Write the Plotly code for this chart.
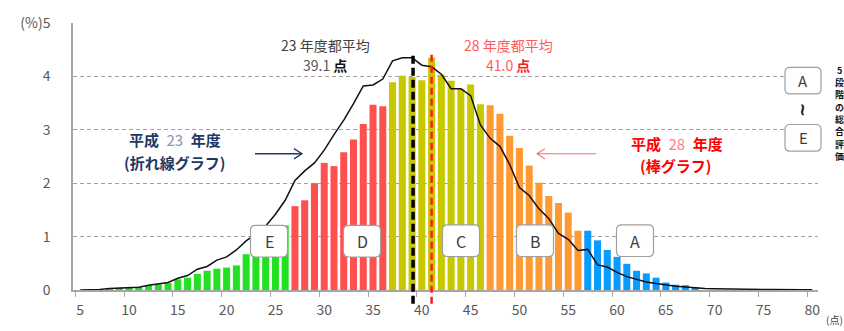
import plotly.graph_objects as go

# ---------------- data ----------------
scores = list(range(5, 81))
# H28 (bar) distribution, % of students per score
h28_pct = [0, 0, 0, 0.03, 0.04, 0.04, 0.05, 0.09, 0.11, 0.13,
           0.20, 0.23, 0.30, 0.36, 0.40, 0.42, 0.46, 0.67, 0.70, 0.75,
           0.85, 1.21, 1.57, 1.68, 2.00, 2.38, 2.32, 2.58, 2.82, 3.11,
           3.47, 3.44, 3.89, 4.01, 3.99, 3.93, 4.35, 4.03, 3.92, 3.77,
           3.85, 3.48, 3.46, 3.30, 2.89, 2.66, 2.33, 2.01, 1.76, 1.63,
           1.45, 1.11, 1.11, 0.93, 0.75, 0.62, 0.49, 0.36, 0.31, 0.23,
           0.14, 0.10, 0.09, 0.055, 0, 0, 0, 0, 0, 0,
           0, 0, 0, 0, 0, 0]
# H23 (line) distribution
h23_pct = [0, 0, 0.01, 0.03, 0.04, 0.04, 0.05, 0.09, 0.12, 0.14,
           0.22, 0.27, 0.39, 0.44, 0.56, 0.62, 0.75, 0.92, 1.05, 1.20,
           1.42, 1.68, 2.05, 2.23, 2.38, 2.62, 2.91, 3.18, 3.49, 3.82,
           3.84, 3.95, 4.29, 4.35, 4.35, 4.21, 4.18, 4.04, 3.77, 3.77,
           3.64, 3.09, 2.84, 2.69, 2.35, 1.92, 1.77, 1.52, 1.34, 1.06,
           0.95, 0.74, 0.76, 0.47, 0.43, 0.33, 0.25, 0.20, 0.15, 0.12,
           0.09, 0.07, 0.055, 0.04, 0.03, 0.025, 0.02, 0.015, 0.01, 0.01,
           0.01, 0.01, 0.005, 0.005, 0.005, 0.005]
grade_names = ["E", "D", "C", "B", "A"]
grade_min_score = [0, 27, 37, 47, 57]
grade_colors = ["#22e022", "#ff5050", "#c8c800", "#ff9a33", "#0a9bff"]
avg_h23 = 39.1
avg_h28 = 41.0
x_ticks = list(range(5, 81, 5))
y_ticks = [0, 1, 2, 3, 4, 5]
y_ticktext = ["0", "1", "2", "3", "4", "(%)5"]


def grade_index(s):
    idx = 0
    for i, m in enumerate(grade_min_score):
        if s >= m:
            idx = i
    return idx


bar_colors = [grade_colors[grade_index(s)] for s in scores]

# ---------------- geometry helpers (layout only) ----------------
W, H = 844, 331
ML, MR, MT, MB = 73, 26, 20, 40
PW, PH = W - ML - MR, H - MT - MB


def fx(px):
    return (px - ML) / PW


def fy(py):
    return (H - MB - py) / PH


def rrect_path(cx, cy, w, h, r):
    x0, x1 = cx - w / 2, cx + w / 2
    y0, y1 = cy - h / 2, cy + h / 2
    pts = []
    pts.append(f"M {fx(x0 + r)},{fy(y0)}")
    pts.append(f"L {fx(x1 - r)},{fy(y0)}")
    pts.append(f"Q {fx(x1)},{fy(y0)} {fx(x1)},{fy(y0 + r)}")
    pts.append(f"L {fx(x1)},{fy(y1 - r)}")
    pts.append(f"Q {fx(x1)},{fy(y1)} {fx(x1 - r)},{fy(y1)}")
    pts.append(f"L {fx(x0 + r)},{fy(y1)}")
    pts.append(f"Q {fx(x0)},{fy(y1)} {fx(x0)},{fy(y1 - r)}")
    pts.append(f"L {fx(x0)},{fy(y0 + r)}")
    pts.append(f"Q {fx(x0)},{fy(y0)} {fx(x0 + r)},{fy(y0)}")
    pts.append("Z")
    return " ".join(pts)


FONT = "Noto Sans CJK JP"

fig = go.Figure()
fig.add_trace(go.Bar(x=scores, y=h28_pct, marker=dict(color=bar_colors, line=dict(width=0)),
                     width=0.72, showlegend=False, hoverinfo="x+y"))
fig.add_trace(go.Scatter(x=scores, y=h23_pct, mode="lines", line=dict(color="#111111", width=1.5),
                         showlegend=False))

shapes = []
# average lines
shapes.append(dict(type="line", xref="x", yref="paper", x0=avg_h23, x1=avg_h23,
                   y0=fy(305), y1=fy(52), line=dict(color="#000000", width=3.5, dash="8px,4px")))
shapes.append(dict(type="line", xref="x", yref="paper", x0=avg_h28, x1=avg_h28,
                   y0=fy(305), y1=fy(52), line=dict(color="#ff1a1a", width=2.5, dash="7px,4px")))

# grade boxes on chart
box_centers = {"E": (269, 241.5), "D": (362, 241.5), "C": (461, 241), "B": (535, 241), "A": (635, 241)}
annotations = []
for g in grade_names:
    cx, cy = box_centers[g]
    shapes.append(dict(type="path", xref="paper", yref="paper", path=rrect_path(cx, cy, 37, 32, 5),
                       fillcolor="white", line=dict(color="#a0a0a0", width=1.2), layer="above"))
    annotations.append(dict(xref="paper", yref="paper", x=fx(cx), y=fy(cy), text=g, showarrow=False,
                            font=dict(family=FONT, size=16, color="#404040"),
                            xanchor="center", yanchor="middle"))

# right legend boxes
for g, cy in (("A", 78.5), ("E", 136.5)):
    shapes.append(dict(type="path", xref="paper", yref="paper", path=rrect_path(803, cy, 36, 27, 5),
                       fillcolor="white", line=dict(color="#a0a0a0", width=1.2), layer="above"))
    annotations.append(dict(xref="paper", yref="paper", x=fx(803), y=fy(cy), text=g, showarrow=False,
                            font=dict(family=FONT, size=15, color="#404040"),
                            xanchor="center", yanchor="middle"))
annotations.append(dict(xref="paper", yref="paper", x=fx(803), y=fy(108), text="<b>~</b>", textangle=90,
                        showarrow=False, font=dict(family="DejaVu Sans", size=17, color="#222222"),
                        xanchor="center", yanchor="middle"))
for ch, cy in zip("5段階の総合評価", [68, 80.5, 93, 105.5, 118, 130.5, 143, 155.5]):
    annotations.append(dict(xref="paper", yref="paper", x=fx(839), y=fy(cy), text=f"<b>{ch}</b>",
                            showarrow=False, font=dict(family=FONT, size=9, color="#111111"),
                            xanchor="center", yanchor="middle"))

# arrows
navy = "#1f3864"
shapes.append(dict(type="line", xref="paper", yref="paper", x0=fx(255), x1=fx(302), y0=fy(152.7), y1=fy(152.7),
                   line=dict(color=navy, width=1.3)))
shapes.append(dict(type="path", xref="paper", yref="paper",
                   path=f"M {fx(294)},{fy(147.5)} L {fx(302)},{fy(152.7)} L {fx(294)},{fy(157.9)}",
                   line=dict(color=navy, width=1.3)))
redarrow = "#ff6b6b"
shapes.append(dict(type="line", xref="paper", yref="paper", x0=fx(537), x1=fx(596), y0=fy(152.7), y1=fy(152.7),
                   line=dict(color=redarrow, width=1.1)))
shapes.append(dict(type="path", xref="paper", yref="paper",
                   path=f"M {fx(545)},{fy(147.5)} L {fx(537)},{fy(152.7)} L {fx(545)},{fy(157.9)}",
                   line=dict(color=redarrow, width=1.1)))

# average labels
annotations.append(dict(xref="paper", yref="paper", x=fx(325), y=fy(42.5), text="23 年度都平均",
                        showarrow=False, font=dict(family=FONT, size=14, color="#404040"),
                        xanchor="center", yanchor="middle"))
annotations.append(dict(xref="paper", yref="paper", x=fx(325), y=fy(63),
                        text="<span style='color:#595959'>39.1</span> <b>点</b>",
                        showarrow=False, font=dict(family=FONT, size=14, color="#111111"),
                        xanchor="center", yanchor="middle"))
annotations.append(dict(xref="paper", yref="paper", x=fx(508), y=fy(42.5), text="28 年度都平均",
                        showarrow=False, font=dict(family=FONT, size=14, color="#ff5a5a"),
                        xanchor="center", yanchor="middle"))
annotations.append(dict(xref="paper", yref="paper", x=fx(508), y=fy(63),
                        text="41.0 <b><span style='color:#ff2020'>点</span></b>",
                        showarrow=False, font=dict(family=FONT, size=14, color="#ff5a5a"),
                        xanchor="center", yanchor="middle"))

# series labels
annotations.append(dict(xref="paper", yref="paper", x=fx(174.5), y=fy(138.5),
                        text="<b>平成</b>\u2002<span style='color:#8497b0'>23</span>\u2002<b>年度</b>",
                        showarrow=False, font=dict(family=FONT, size=15, color=navy),
                        xanchor="center", yanchor="middle"))
annotations.append(dict(xref="paper", yref="paper", x=fx(174.5), y=fy(162),
                        text="<b>(折れ線グラフ)</b>",
                        showarrow=False, font=dict(family=FONT, size=15, color=navy),
                        xanchor="center", yanchor="middle"))
annotations.append(dict(xref="paper", yref="paper", x=fx(676.5), y=fy(142.5),
                        text="<b>平成</b>\u2002<span style='color:#ff8080'>28</span>\u2002<b>年度</b>",
                        showarrow=False, font=dict(family=FONT, size=15, color="#ff0000"),
                        xanchor="center", yanchor="middle"))
annotations.append(dict(xref="paper", yref="paper", x=fx(675.5), y=fy(165),
                        text="<b>(棒グラフ)</b>",
                        showarrow=False, font=dict(family=FONT, size=15, color="#ff0000"),
                        xanchor="center", yanchor="middle"))

# x-axis unit
annotations.append(dict(xref="paper", yref="paper", x=fx(834), y=fy(331), text="(点)",
                        showarrow=False, font=dict(family=FONT, size=10, color="#404040"),
                        xanchor="center", yanchor="bottom"))

fig.update_layout(
    width=W, height=H,
    margin=dict(l=ML, r=MR, t=MT, b=MB, pad=0),
    paper_bgcolor="white", plot_bgcolor="white",
    bargap=0.28,
    shapes=shapes,
    annotations=annotations,
    font=dict(family=FONT, color="#595959"),
    xaxis=dict(
        range=[4.26, 80.59],
        tickmode="array", tickvals=x_ticks, ticktext=[str(v) for v in x_ticks],
        ticks="outside", ticklen=6, tickcolor="rgba(0,0,0,0)",
        tickfont=dict(family=FONT, size=14, color="#595959"),
        showgrid=False, zeroline=False,
        showline=True, linecolor="#a6a6a6", linewidth=1.5,
        minor=dict(tick0=4.5, dtick=5, ticks="outside", ticklen=5, tickcolor="#a6a6a6", tickwidth=1.2,
                   showgrid=False),
    ),
    yaxis=dict(
        range=[0, 5],
        tickmode="array", tickvals=y_ticks, ticktext=y_ticktext,
        ticks="outside", ticklen=18, tickcolor="rgba(0,0,0,0)",
        tickfont=dict(family=FONT, size=14, color="#595959"),
        showgrid=False, zeroline=False,
        showline=True, linecolor="#a6a6a6", linewidth=1.5,
        minor=dict(tickmode="array", tickvals=[1, 2, 3, 4], ticks="", showgrid=True,
                   gridcolor="#a0a0a0", gridwidth=1, griddash="4px,3px"),
    ),
)

fig.write_html("out.html")
